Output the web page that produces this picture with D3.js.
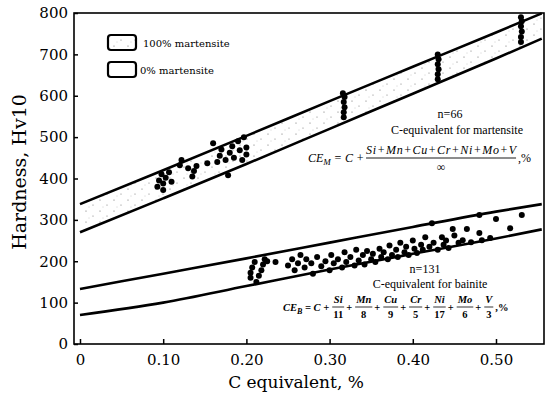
<!DOCTYPE html>
<html>
<head>
<meta charset="utf-8">
<script src="https://cdn.jsdelivr.net/npm/d3@7"></script>
<style>
body { margin: 0; background: #fff; }
</style>
</head>
<body>
<script>
// axis ticks
var xTicks = [0, 0.1, 0.2, 0.3, 0.4, 0.5];
var xTickLabels = ["0", "0.10", "0.20", "0.30", "0.40", "0.50"];
var yTicks = [0, 100, 200, 300, 400, 500, 600, 700, 800];

// band boundary lines (C equivalent -> hardness)
var bandC = [0, 0.1, 0.2, 0.3, 0.4, 0.5, 0.555];
var martUpper = [338, 420, 503, 587, 670, 753, 799];
var martLower = [270, 352, 435, 520, 605, 690, 738];
var bainUpper = [133, 170, 207, 245, 283, 320, 338];
var bainLower = [70, 100, 140, 180, 218, 255, 277];

// measured points, martensite (n=66)
var martPoints = [
  [0.093,380],[0.095,395],[0.098,410],[0.10,372],[0.10,388],[0.103,402],[0.107,415],[0.11,392],
  [0.12,432],[0.122,445],[0.13,425],[0.135,405],[0.137,418],[0.14,430],[0.153,437],[0.16,485],
  [0.165,440],[0.168,455],[0.17,470],[0.175,445],[0.178,408],[0.18,462],[0.183,478],[0.185,450],
  [0.19,490],[0.192,468],[0.195,445],[0.197,500],[0.20,475],[0.20,458],
  [0.317,548],[0.317,560],[0.318,572],[0.317,585],[0.318,597],[0.316,606],
  [0.43,640],[0.43,652],[0.431,664],[0.43,676],[0.431,688],[0.43,700],
  [0.53,730],[0.53,742],[0.531,755],[0.53,768],[0.531,780],[0.53,790]
];

// measured points, bainite (n=131)
var bainPoints = [
  [0.205,160],[0.205,172],[0.207,185],[0.21,198],[0.212,150],[0.215,165],[0.218,178],[0.22,192],
  [0.222,205],[0.225,200],[0.235,198],[0.25,190],[0.255,205],[0.258,178],[0.262,195],[0.265,215],
  [0.27,185],[0.272,205],[0.278,195],[0.28,170],[0.285,210],[0.29,188],[0.295,200],[0.30,178],
  [0.302,215],[0.305,195],[0.31,205],[0.315,185],[0.318,222],[0.32,198],[0.325,210],[0.33,190],
  [0.332,228],[0.335,202],[0.34,215],[0.342,192],[0.345,225],[0.35,205],[0.352,218],[0.355,198],
  [0.36,230],[0.362,210],[0.365,222],[0.37,205],[0.372,238],[0.375,215],[0.38,228],[0.382,210],
  [0.385,245],[0.39,222],[0.392,235],[0.395,215],[0.40,250],[0.402,230],[0.405,220],[0.41,240],
  [0.412,228],[0.415,258],[0.42,235],[0.423,292],[0.425,245],[0.43,228],[0.435,258],[0.437,240],
  [0.44,250],[0.443,232],[0.448,278],[0.45,262],[0.455,245],[0.46,251],[0.465,278],[0.47,246],
  [0.48,268],[0.48,312],[0.483,251],[0.493,256],[0.50,302],[0.517,280],[0.531,312]
];

var legendLabels = ["100% martensite", "0% martensite"];

var width = 545,
    height = 403;

var svg = d3.select("body").append("svg")
  .attr("width", width)
  .attr("height", height);

var x = d3.scaleLinear().domain([-0.0072, 0.5577]).range([74, 544]);
var y = d3.scaleLinear().domain([0, 800]).range([344, 13]);

// stipple for the martensite band
var defs = svg.append("defs");
var pat = defs.append("pattern")
  .attr("id", "stip")
  .attr("patternUnits", "userSpaceOnUse")
  .attr("width", 14).attr("height", 11);
pat.append("circle").attr("cx", 2).attr("cy", 2).attr("r", 0.6).attr("fill", "#666");
pat.append("circle").attr("cx", 9).attr("cy", 7).attr("r", 0.6).attr("fill", "#777");
pat.append("circle").attr("cx", 5).attr("cy", 9).attr("r", 0.45).attr("fill", "#999");

var bandIdx = d3.range(bandC.length);

var area = d3.area()
  .x(function(i) { return x(bandC[i]); })
  .y0(function(i) { return y(martLower[i]); })
  .y1(function(i) { return y(martUpper[i]); })
  .curve(d3.curveMonotoneX);

svg.append("path")
  .attr("d", area(bandIdx))
  .attr("fill", "url(#stip)");

// band lines
function bandLine(vals) {
  return d3.line()
    .x(function(i) { return x(bandC[i]); })
    .y(function(i) { return y(vals[i]); })
    .curve(d3.curveMonotoneX)(bandIdx);
}

[martUpper, martLower, bainUpper, bainLower].forEach(function(vals) {
  svg.append("path")
    .attr("d", bandLine(vals))
    .attr("fill", "none")
    .attr("stroke", "#000")
    .attr("stroke-width", 2.6);
});

// points
svg.append("g")
  .selectAll("circle")
  .data(martPoints.concat(bainPoints))
  .enter()
.append("circle")
  .attr("cx", function(d) { return x(d[0]); })
  .attr("cy", function(d) { return y(d[1]); })
  .attr("r", 3)
  .attr("fill", "#000");

// axes
var xAxis = svg.append("g")
  .attr("transform", "translate(0,344)")
  .call(d3.axisBottom(x).tickValues(xTicks).tickSize(-5).tickPadding(10)
    .tickFormat(function(d, i) { return xTickLabels[i]; }));
xAxis.select(".domain").remove();

var yAxis = svg.append("g")
  .attr("transform", "translate(74,0)")
  .call(d3.axisLeft(y).tickValues(yTicks).tickSize(-4).tickPadding(6));
yAxis.select(".domain").remove();

svg.selectAll(".tick line").attr("stroke", "#000").attr("stroke-width", 1.5);
svg.selectAll(".tick text")
  .attr("fill", "#000")
  .style("font-family", "DejaVu Serif")
  .style("font-size", "15px");

// frame
svg.append("rect")
  .attr("x", 74).attr("y", 13)
  .attr("width", 470).attr("height", 331)
  .attr("fill", "none")
  .attr("stroke", "#000")
  .attr("stroke-width", 1.6);

// axis titles
svg.append("text")
  .attr("x", 296).attr("y", 388)
  .attr("text-anchor", "middle")
  .style("font-family", "DejaVu Serif")
  .style("font-size", "17px")
  .text("C equivalent, %");

svg.append("text")
  .attr("transform", "translate(26,172) rotate(-90)")
  .attr("text-anchor", "middle")
  .style("font-family", "DejaVu Serif")
  .style("font-size", "19px")
  .text("Hardness, Hv10");

// legend
var leg = svg.append("g");
legendLabels.forEach(function(lab, i) {
  leg.append("rect")
    .attr("x", 108).attr("y", 35 + i * 27)
    .attr("width", 28).attr("height", 15)
    .attr("rx", 3)
    .attr("fill", i == 0 ? "url(#stip)" : "#fff")
    .attr("stroke", "#000")
    .attr("stroke-width", 2.2);
  leg.append("text")
    .attr("x", i == 0 ? 143 : 140).attr("y", 47 + i * 27)
    .style("font-family", "DejaVu Serif")
    .style("font-size", "10px")
    .text(lab);
});

// annotations
function serifText(xp, yp, txt, size, anchor) {
  return svg.append("text")
    .attr("x", xp).attr("y", yp)
    .attr("text-anchor", anchor || "middle")
    .style("font-family", "Liberation Serif")
    .style("font-size", size + "px")
    .text(txt);
}

serifText(450, 118, "n=66", 12);
serifText(457, 134, "C-equivalent for martensite", 12);
serifText(425, 273, "n=131", 12);
serifText(430, 288, "C-equivalent for bainite", 12);

// martensite formula
var fm = svg.append("g")
  .style("font-family", "Liberation Serif")
  .style("font-style", "italic")
  .style("font-size", "12px");
var ceM = fm.append("text").attr("x", 308).attr("y", 162);
ceM.append("tspan").text("CE");
ceM.append("tspan").attr("dy", 3).style("font-size", "9px").text("M");
ceM.append("tspan").attr("dy", -3).text(" = C +");
var numStart = 308 + ceM.node().getComputedTextLength() + 2;
var numW = 150;
fm.append("text").attr("x", numStart).attr("y", 154)
  .attr("textLength", numW).attr("lengthAdjust", "spacing")
  .text("Si+Mn+Cu+Cr+Ni+Mo+V");
fm.append("line")
  .attr("x1", numStart).attr("x2", numStart + numW)
  .attr("y1", 158).attr("y2", 158)
  .attr("stroke", "#000").attr("stroke-width", 0.9);
fm.append("text").attr("x", numStart + numW / 2).attr("y", 171)
  .attr("text-anchor", "middle").style("font-style", "normal").text("\u221e");
fm.append("text").attr("x", numStart + numW + 2).attr("y", 162).style("font-style", "normal").text(",%");

// bainite formula
var fb = svg.append("g")
  .style("font-family", "Liberation Serif")
  .style("font-style", "italic")
  .style("font-weight", "bold")
  .style("font-size", "10.5px");
var ceB = fb.append("text").attr("x", 283).attr("y", 311);
ceB.append("tspan").text("CE");
ceB.append("tspan").attr("dy", 3).style("font-size", "8px").text("B");
ceB.append("tspan").attr("dy", -3).text(" = C +");
var cx = 283 + ceB.node().getComputedTextLength() + 3;
var fracs = [["Si", "11"], ["Mn", "8"], ["Cu", "9"], ["Cr", "5"], ["Ni", "17"], ["Mo", "6"], ["V", "3"]];
fracs.forEach(function(f, i) {
  var t1 = fb.append("text").attr("y", 303).attr("text-anchor", "middle").text(f[0]);
  var t2 = fb.append("text").attr("y", 318).attr("text-anchor", "middle").style("font-style", "normal").text(f[1]);
  var w = Math.max(t1.node().getComputedTextLength(), t2.node().getComputedTextLength()) + 2;
  t1.attr("x", cx + w / 2);
  t2.attr("x", cx + w / 2);
  fb.append("line")
    .attr("x1", cx).attr("x2", cx + w)
    .attr("y1", 307).attr("y2", 307)
    .attr("stroke", "#000").attr("stroke-width", 0.8);
  cx += w + 2;
  var plus = fb.append("text").attr("x", cx).attr("y", 311)
    .style("font-style", "normal")
    .text(i < fracs.length - 1 ? "+" : ",%");
  cx += plus.node().getComputedTextLength() + 3;
});
</script>
</body>
</html>
